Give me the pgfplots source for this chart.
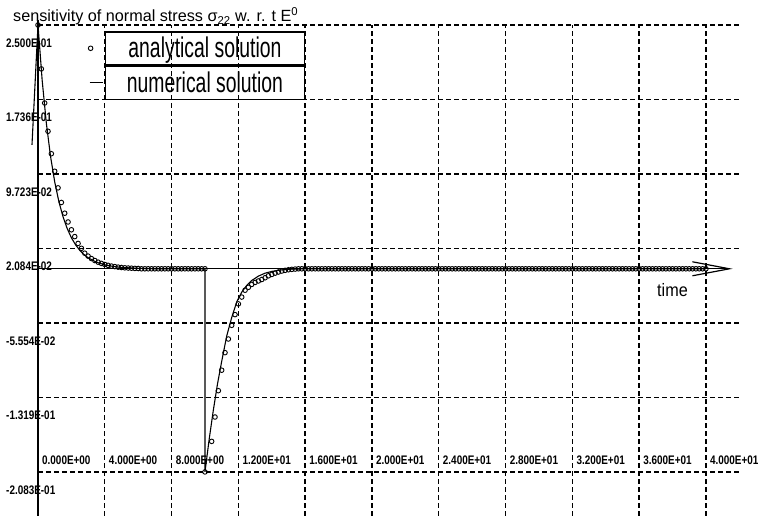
\documentclass[border=0pt]{standalone}
\usepackage{fontspec}
\setmainfont{Liberation Sans}
\newfontfamily\tickfont[FakeStretch=0.8]{Liberation Sans}
\newfontfamily\legfont[FakeStretch=0.68]{Liberation Sans}
\newfontfamily\timefont[FakeStretch=0.9]{Liberation Sans}
\usepackage{pgfplots}
\pgfplotsset{compat=1.18}
\usetikzlibrary{arrows.meta}
\begin{document}
\begin{tikzpicture}
\path[use as bounding box] (-38bp,0bp) rectangle (724bp,516bp);
\begin{axis}[
  at={(0,0)}, anchor=south west,
  scale only axis, width=702bp, height=491bp,
  xmin=0, xmax=42.04, ymin=-0.2535, ymax=0.25,
  clip=false,
  axis line style={draw=none},
  tick style={draw=none},
  xtick={0,4,8,12,16,20,24,28,32,36,40},
  xticklabels={0.000E+00,4.000E+00,8.000E+00,1.200E+01,1.600E+01,2.000E+01,2.400E+01,2.800E+01,3.200E+01,3.600E+01,4.000E+01},
  ytick={-0.2083,-0.1319,-0.05554,0.02084,0.09723,0.1736,0.25},
  yticklabels={-2.083E-01,-1.319E-01,-5.554E-02,2.084E-02,9.723E-02,1.736E-01,2.500E-01},
  tick label style={font=\tickfont\bfseries\fontsize{12.4bp}{14bp}\selectfont, text=black},
  xticklabel style={anchor=west, inner sep=0pt, xshift=4bp, yshift=56bp},
  yticklabel style={anchor=west, inner sep=0pt, xshift=-32bp, yshift=-18bp},
  grid=major,
  major grid style={black, line width=1.4bp, dash pattern=on 5bp off 3bp},
  legend cell align=center,
  legend style={at={(axis cs:16,0.2438)}, anchor=north east, draw=none, fill=none,
    inner sep=0pt, outer sep=0pt, row sep=0pt, column sep=1.5bp,
    nodes={draw, line width=1.5bp, minimum width=199bp, minimum height=33bp, inner sep=0pt,
      font=\legfont\fontsize{28.5bp}{32bp}\selectfont, anchor=center}},
]
\addplot[only marks, mark=o, mark size=2.3bp, mark options={line width=0.9bp, black},
  legend image code/.code={\draw[line width=0.9bp] (1bp,0bp) circle (2.3bp);}]
coordinates {
(0,0.250) (0.2,0.205) (0.4,0.170) (0.6,0.141) (0.8,0.118) (1.0,0.100) (1.2,0.083) (1.4,0.068)
(1.6,0.057) (1.8,0.048) (2.0,0.040) (2.2,0.033) (2.4,0.026) (2.6,0.021) (2.8,0.016) (3.0,0.013)
(3.2,0.0105) (3.4,0.0085) (3.6,0.0068) (3.8,0.0055) (4.0,0.0044) (4.2,0.0035) (4.4,0.0028)
(4.6,0.0022) (4.8,0.0017) (5.0,0.0013) (5.2,0.0010) (5.4,0.0008) (5.6,0.0006) (5.8,0.0004)
(6.0,0.0003) (6.2,0) (6.4,0) (6.6,0) (6.8,0) (7.0,0) (7.2,0) (7.4,0) (7.6,0) (7.8,0) (8.0,0)
(8.2,0) (8.4,0) (8.6,0) (8.8,0) (9.0,0) (9.2,0) (9.4,0) (9.6,0) (9.8,0) (10.0,0)
(10.0,-0.2083) (10.4,-0.177) (10.6,-0.152) (10.8,-0.125) (11.0,-0.104) (11.2,-0.086)
(11.4,-0.072) (11.6,-0.058) (11.8,-0.047) (12.0,-0.036) (12.2,-0.029) (12.4,-0.022)
(12.6,-0.019) (12.8,-0.016) (13.0,-0.014) (13.2,-0.0125) (13.4,-0.011) (13.6,-0.0092)
(13.8,-0.0072) (14.0,-0.0058) (14.2,-0.0045) (14.4,-0.0033) (14.6,-0.0023) (14.8,-0.0016)
(15.0,-0.0010) (15.2,-0.0006) (15.4,-0.0003)
(15.6,0) (15.8,0) (16.0,0) (16.2,0) (16.4,0) (16.6,0) (16.8,0) (17.0,0) (17.2,0) (17.4,0)
(17.6,0) (17.8,0) (18.0,0) (18.2,0) (18.4,0) (18.6,0) (18.8,0) (19.0,0) (19.2,0) (19.4,0)
(19.6,0) (19.8,0) (20.0,0) (20.2,0) (20.4,0) (20.6,0) (20.8,0) (21.0,0) (21.2,0) (21.4,0)
(21.6,0) (21.8,0) (22.0,0) (22.2,0) (22.4,0) (22.6,0) (22.8,0) (23.0,0) (23.2,0) (23.4,0)
(23.6,0) (23.8,0) (24.0,0) (24.2,0) (24.4,0) (24.6,0) (24.8,0) (25.0,0) (25.2,0) (25.4,0)
(25.6,0) (25.8,0) (26.0,0) (26.2,0) (26.4,0) (26.6,0) (26.8,0) (27.0,0) (27.2,0) (27.4,0)
(27.6,0) (27.8,0) (28.0,0) (28.2,0) (28.4,0) (28.6,0) (28.8,0) (29.0,0) (29.2,0) (29.4,0)
(29.6,0) (29.8,0) (30.0,0) (30.2,0) (30.4,0) (30.6,0) (30.8,0) (31.0,0) (31.2,0) (31.4,0)
(31.6,0) (31.8,0) (32.0,0) (32.2,0) (32.4,0) (32.6,0) (32.8,0) (33.0,0) (33.2,0) (33.4,0)
(33.6,0) (33.8,0) (34.0,0) (34.2,0) (34.4,0) (34.6,0) (34.8,0) (35.0,0) (35.2,0) (35.4,0)
(35.6,0) (35.8,0) (36.0,0) (36.2,0) (36.4,0) (36.6,0) (36.8,0) (37.0,0) (37.2,0) (37.4,0)
(37.6,0) (37.8,0) (38.0,0) (38.2,0) (38.4,0) (38.6,0) (38.8,0) (39.0,0) (39.2,0) (39.4,0)
(39.6,0) (39.8,0) (40.0,0)
};
\addlegendentry{analytical solution}
\addplot[black, line width=1.1bp, mark=none,
  legend image code/.code={\draw[line width=1.1bp] (0bp,0bp) -- (13bp,0bp);}]
coordinates {
(-0.36,0.127) (0,0.250) (0.25,0.1932) (0.5,0.1493) (0.75,0.1154) (1.0,0.0892) (1.25,0.0689)
(1.5,0.0533) (1.75,0.0412) (2.0,0.0318) (2.25,0.0246) (2.5,0.0190) (2.75,0.0147) (3.0,0.0113)
(3.5,0.0068) (4.0,0.0040) (4.5,0.0024) (5.0,0.0014) (6.0,0.0005) (7.0,0) (10.0,0)
(10.0,-0.2083) (10.25,-0.175) (10.5,-0.145) (10.75,-0.118) (11.0,-0.095) (11.3,-0.069)
(11.6,-0.050) (11.9,-0.034) (12.2,-0.024) (12.5,-0.017) (12.8,-0.012) (13.2,-0.0075)
(13.6,-0.0045) (14.0,-0.0027) (14.5,-0.0013) (15.0,-0.0005) (16.0,0) (40.0,0)
};
\addlegendentry{numerical solution}
\draw[line width=1.3bp] (axis cs:0,-0.2535) -- (axis cs:0,0.2549);
\draw[line width=1.3bp, -{Straight Barb[length=37bp,width=14bp,line width=1.2bp]}] (axis cs:0,0) -- (axis cs:41.6,0);
\node[anchor=base west, inner sep=0pt, font=\fontsize{16.2bp}{19bp}\selectfont] at (axis cs:-1.5,0.2534)
  {sensitivity of normal stress σ\textsubscript{22} w. r. t E\textsuperscript{0}};
\node[inner sep=0pt, font=\timefont\fontsize{18bp}{21bp}\selectfont] at (axis cs:38.0,-0.0217) {time};
\end{axis}
\end{tikzpicture}
\end{document}
